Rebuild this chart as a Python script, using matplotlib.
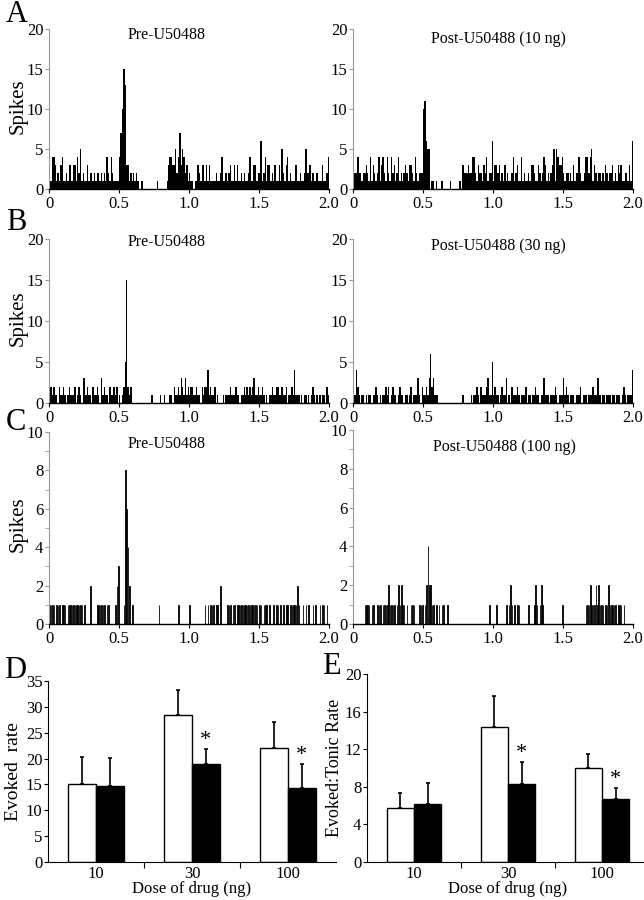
import numpy as np
import matplotlib
matplotlib.use("Agg")
import matplotlib.pyplot as plt
from matplotlib.ticker import MultipleLocator

plt.rcParams['font.family'] = ['Liberation Serif', 'DejaVu Serif']

# spike counts per 10 ms bin, 0-2 s
bin_width = 0.01

a_pre = [5,1,4,4,3,1,2,1,3,4, 1,1,2,1,3,3,1,3,3,1,
         4,2,5,1,2,1,1,3,1,2, 2,1,2,1,2,2,1,2,1,2,
         1,4,2,1,4,2,1,1,1,1, 4,7,10,15,13,3,3,1,2,1,
         2,1,2,1,0,0,1,0,0,0, 0,0,0,0,0,0,0,1,0,0,
         0,0,0,0,1,3,4,4,3,3, 5,2,4,7,3,5,4,2,3,1,
         2,1,1,0,1,1,3,2,1,3, 3,1,3,1,3,1,1,1,1,2,
         1,1,2,4,1,1,2,1,2,3, 1,1,3,1,3,1,1,2,1,2,
         1,1,2,4,1,1,3,3,1,2, 2,6,1,2,4,1,3,3,1,2,
         1,3,1,1,3,1,5,2,1,3, 4,1,2,1,1,1,3,1,1,2,
         1,1,2,5,2,2,3,1,2,1, 1,2,1,1,1,3,1,1,2,4]

a_post = [1,2,2,4,2,2,1,2,2,3, 2,1,4,1,3,2,1,2,4,1,
          3,4,2,1,4,2,1,4,2,3, 1,2,4,1,2,1,2,3,2,1,
          3,3,2,1,4,2,1,2,2,2, 10,11,6,5,5,0,1,1,0,1,
          0,0,0,1,0,0,0,0,0,1, 0,0,0,0,0,0,1,0,3,2,
          2,2,3,2,2,4,4,2,1,3, 2,2,1,3,2,4,1,2,2,6,
          1,3,3,2,3,1,2,1,3,1, 2,1,1,2,4,1,2,3,1,1,
          4,1,2,1,1,2,1,3,3,2, 1,1,3,2,1,2,4,3,1,2,
          1,2,3,5,1,5,4,3,3,4, 2,1,2,2,1,2,1,3,1,2,
          2,4,2,1,1,2,4,4,2,4, 5,1,3,2,1,2,2,1,2,1,
          3,2,1,2,2,3,1,2,1,3, 2,3,1,1,2,2,1,3,1,6]

b_pre = [0,2,1,2,1,1,0,2,1,1, 2,1,0,1,2,1,1,1,2,0,
         1,2,1,0,3,3,1,2,1,1, 0,2,1,1,2,1,0,3,1,2,
         1,1,0,2,1,1,2,1,2,0, 1,0,1,2,5,15,2,1,2,0,
         0,0,0,0,0,0,0,0,0,0, 0,0,0,1,0,0,0,0,0,1,
         0,0,1,0,0,0,1,1,0,2, 1,1,2,1,3,2,1,3,1,2,
         1,2,2,1,1,2,1,1,0,2, 1,2,2,4,1,2,1,1,2,0,
         1,0,0,0,1,0,1,1,1,2, 1,1,1,2,1,1,0,1,1,2,
         1,2,1,2,1,2,3,1,1,2, 1,1,2,1,0,1,0,1,1,2,
         1,1,2,2,1,1,2,1,1,2, 0,1,1,2,1,4,1,1,1,0,
         1,0,1,1,0,1,0,1,2,1, 0,1,0,1,0,1,1,0,2,1]

b_post = [1,1,4,2,1,0,1,1,0,1, 0,1,1,0,1,1,2,1,0,1,
          0,1,1,2,1,2,0,1,2,1, 1,0,1,2,1,1,0,1,1,0,
          1,2,0,1,1,1,3,1,0,2, 1,1,2,1,3,6,2,3,1,1,
          1,0,0,0,0,0,0,0,0,0, 0,0,0,0,0,0,0,0,1,0,
          0,0,0,0,1,0,1,1,2,1, 0,2,1,1,1,2,3,1,1,5,
          1,2,1,1,0,1,2,1,1,3, 0,1,0,2,1,1,1,2,1,0,
          1,1,1,2,0,1,1,0,1,1, 2,1,1,0,1,1,3,1,1,1,
          0,1,1,1,2,1,0,1,1,1, 3,1,2,1,0,1,1,1,0,1,
          1,1,2,0,1,1,1,0,1,1, 1,2,1,1,3,3,1,0,1,1,
          0,1,1,1,0,1,1,0,1,1, 1,0,1,2,1,0,1,1,1,4]

c_pre = [1,1,1,1,0,1,1,1,0,1, 1,1,0,1,1,1,1,1,1,1,
         1,1,1,1,0,1,0,0,0,2, 0,0,0,0,1,1,1,1,1,1,
         0,1,1,0,0,0,0,1,2,3, 0,0,0,1,8,6,4,2,0,1,
         0,0,0,0,0,0,0,0,0,0, 0,0,0,0,0,0,0,0,1,0,
         0,0,0,0,0,0,0,0,0,0, 0,0,1,0,0,0,0,0,0,0,
         1,0,0,0,0,0,0,0,0,0, 0,1,0,1,0,1,1,1,0,1,
         1,0,2,0,0,0,0,1,1,1, 0,1,1,0,1,1,1,1,1,1,
         1,1,1,1,1,1,1,1,1,0, 1,1,0,1,1,1,0,1,0,0,
         1,0,1,1,0,1,0,1,0,1, 1,0,1,1,1,1,1,2,1,0,
         0,1,0,1,0,1,0,0,1,0, 1,0,0,1,0,1,1,0,1,0]

c_post = [0,0,0,0,0,0,0,0,1,1, 1,1,0,1,1,0,0,1,1,1,
          0,1,1,1,1,2,1,1,1,1, 0,1,2,1,2,1,1,0,1,0,
          0,1,1,1,0,0,0,1,1,1, 0,1,2,4,2,2,1,1,0,1,
          0,1,0,1,1,0,0,1,0,0, 0,0,0,0,0,0,0,0,0,0,
          0,0,0,0,0,0,0,0,0,0, 0,0,0,0,0,0,0,1,0,0,
          0,0,1,0,0,0,0,0,0,1, 0,1,2,1,0,1,0,1,1,0,
          0,0,0,0,0,1,0,0,0,1, 2,1,0,1,2,1,0,0,0,0,
          0,0,0,0,0,0,0,0,0,1, 0,0,0,0,0,0,0,0,0,0,
          0,0,0,0,0,0,1,1,1,2, 1,1,1,2,1,2,1,1,1,0,
          1,1,2,1,1,1,1,1,0,1, 1,1,0,1,0,0,0,0,0,0]

# bar charts
doses = ['10', '30', '100']
evoked_pre = [15.0, 28.4, 22.0]
evoked_pre_err = [5.3, 4.8, 5.0]
evoked_post = [14.6, 19.0, 14.3]
evoked_post_err = [5.6, 2.8, 4.6]
ratio_pre = [5.7, 14.4, 10.0]
ratio_pre_err = [1.6, 3.3, 1.5]
ratio_post = [6.2, 8.3, 6.7]
ratio_post_err = [2.2, 2.3, 1.2]
evoked_sig = [False, True, True]
ratio_sig = [False, True, True]

W, H = 644, 900
fig = plt.figure(figsize=(W / 100, H / 100), dpi=100)


def px_axes(x0, x1, ytop, ybot):
    return fig.add_axes([x0 / W, 1 - ybot / H, (x1 - x0) / W, (ybot - ytop) / H])


def histo(ax, counts, ymax, title, tx, ty, ylabel=False, minor=None, step=5, thin=False):
    counts = np.asarray(counts)
    assert len(counts) == 200
    edges = np.arange(len(counts)) * bin_width
    if thin:
        # sparse panels: each bin drawn as a thin outlined bar
        ax.bar(edges + bin_width / 2, counts, width=bin_width * 0.3, color='black',
               edgecolor='black', linewidth=0.6)
    else:
        ax.bar(edges, counts, width=bin_width * 0.95, align='edge', color='black', linewidth=0)
    ax.set_xlim(0, 2.0)
    ax.set_ylim(0, ymax)
    ax.set_xticks([0, 0.5, 1.0, 1.5, 2.0])
    ax.set_xticklabels(['0', '0.5', '1.0', '1.5', '2.0'])
    ax.yaxis.set_major_locator(MultipleLocator(step))
    if minor:
        ax.yaxis.set_minor_locator(MultipleLocator(minor))
    for s in ['top', 'right']:
        ax.spines[s].set_visible(False)
    ax.spines['left'].set_color('#999999')
    ax.spines['bottom'].set_linewidth(1.0)
    ax.tick_params(axis='y', colors='#999999', labelcolor='black', length=3, pad=1, labelsize=12)
    ax.tick_params(axis='y', which='minor', colors='#999999', length=3)
    ax.tick_params(axis='x', length=3, pad=2, labelsize=12)
    ax.text(tx, ty, title, transform=ax.transAxes, ha='center', va='center', fontsize=11.5)
    if ylabel:
        ax.set_ylabel('Spikes', fontsize=15)
        ax.yaxis.set_label_coords(-0.075, 0.52)


ax = px_axes(49, 329, 29, 189)
histo(ax, a_pre, 20, 'Pre-U50488', 0.42, 0.96, ylabel=True)
ax = px_axes(353, 633, 29, 189)
histo(ax, a_post, 20, 'Post-U50488 (10 ng)', 0.52, 0.94)

ax = px_axes(49, 329, 239, 403)
histo(ax, b_pre, 20, 'Pre-U50488', 0.42, 0.98, ylabel=True)
ax = px_axes(353, 633, 239, 403)
histo(ax, b_post, 20, 'Post-U50488 (30 ng)', 0.52, 0.96)

ax = px_axes(49, 329, 432, 624)
histo(ax, c_pre, 10, 'Pre-U50488', 0.42, 0.94, ylabel=True, minor=1, step=2, thin=True)
ax = px_axes(353, 633, 430, 624)
histo(ax, c_post, 10, 'Post-U50488 (100 ng)', 0.54, 0.91, minor=1, step=2, thin=True)


def bars(ax, pre, pre_err, post, post_err, sig, ymax, step, ylabel, lsize, star_off, lx):
    x = np.arange(len(doses)) + 0.5
    bw = 0.29
    ax.bar(x - bw / 2, pre, width=bw, color='white', edgecolor='black', linewidth=1.0, zorder=2)
    ax.bar(x + bw / 2, post, width=bw, color='black', edgecolor='black', linewidth=1.0, zorder=2)
    ax.errorbar(x - bw / 2, pre, yerr=[np.zeros(len(pre)), pre_err], fmt='none',
                ecolor='black', elinewidth=1.2, capsize=1.5, capthick=1.2, zorder=1)
    ax.errorbar(x + bw / 2, post, yerr=[np.zeros(len(post)), post_err], fmt='none',
                ecolor='black', elinewidth=1.2, capsize=1.5, capthick=1.2, zorder=1)
    for i, s in enumerate(sig):
        if s:
            ax.text(x[i] + bw / 2, post[i] + post_err[i] + star_off, '*',
                    ha='center', va='center', fontsize=16)
    ax.set_xlim(0, 3)
    ax.set_ylim(0, ymax)
    ax.set_xticks([1, 2])
    ax.set_xticklabels([])
    ax.set_xticks(x, minor=True)
    ax.set_xticklabels(doses, minor=True)
    ax.tick_params(axis='x', which='major', length=4)
    ax.tick_params(axis='x', which='minor', length=0, pad=3, labelsize=12)
    ax.yaxis.set_major_locator(MultipleLocator(step))
    ax.tick_params(axis='y', length=3, pad=1, labelsize=12)
    for s in ['top', 'right']:
        ax.spines[s].set_visible(False)
    ax.set_ylabel(ylabel, fontsize=lsize)
    ax.yaxis.set_label_coords(lx, 0.5)
    ax.set_xlabel('Dose of drug (ng)', fontsize=12, labelpad=-1)


ax = px_axes(48, 336, 681, 862)
bars(ax, evoked_pre, evoked_pre_err, evoked_post, evoked_post_err, evoked_sig,
     35, 5, 'Evoked  rate', 14, 1.6, -0.09)
ax = px_axes(367, 649, 674, 862)
bars(ax, ratio_pre, ratio_pre_err, ratio_post, ratio_post_err, ratio_sig,
     20, 4, 'Evoked:Tonic Rate', 13, 0.9, -0.085)

for letter, x, y in [('A', 6, 14), ('B', 6, 222), ('C', 6, 422), ('D', 4, 671), ('E', 322, 666)]:
    fig.text(x / W, 1 - y / H, letter, fontsize=22, ha='left', va='center')

fig.savefig('out.png', dpi=100)
